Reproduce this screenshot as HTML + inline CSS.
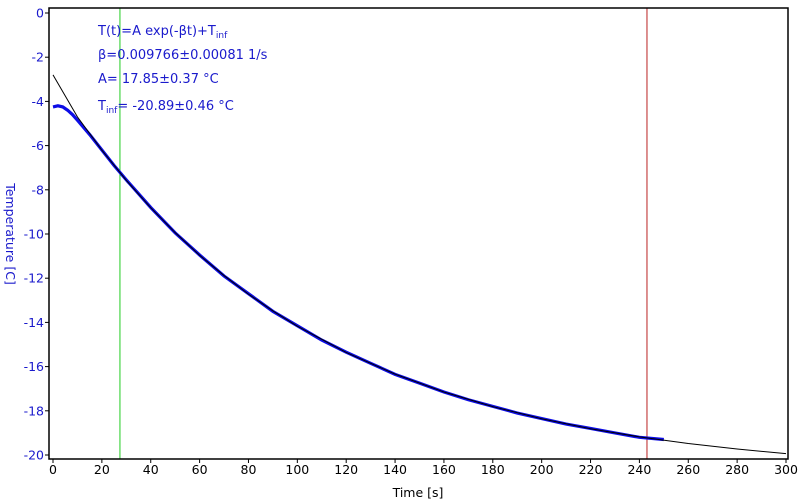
<!DOCTYPE html>
<html><head><meta charset="utf-8"><style>
html,body{margin:0;padding:0;background:#fff;width:800px;height:504px;overflow:hidden}
svg{font-family:"DejaVu Sans","Liberation Sans",sans-serif}
</style></head><body>
<svg id="chart" width="800" height="504">
<rect x="0" y="0" width="800" height="504" fill="#fff"/>
<g id="grid"></g>
<g id="series"></g>
<g id="axes"></g>
<g fill="#1a1acc" font-size="13">
<text x="98" y="35">T(t)=A exp(-βt)+T<tspan font-size="9" dy="3">inf</tspan></text>
<text x="98" y="59">β=0.009766±0.00081 1/s</text>
<text x="98" y="83">A= 17.85±0.37 °C</text>
<text x="98" y="110">T<tspan font-size="9" dy="3">inf</tspan><tspan dy="-3">= -20.89±0.46 °C</tspan></text>
</g>
<text x="418" y="497" font-size="12.5" text-anchor="middle" fill="#000">Time [s]</text>
<text transform="translate(6,234) rotate(90)" font-size="12.5" text-anchor="middle" fill="#1a1acc">Temperature [C]</text>
</svg>
<script>
const xTicks=[0,20,40,60,80,100,120,140,160,180,200,220,240,260,280,300];
const yTicks=[0,-2,-4,-6,-8,-10,-12,-14,-16,-18,-20];
const dataT=[0,2,4,6,8,10,15,20,25,30,40,50,60,70,80,90,100,110,120,130,140,150,160,170,180,190,200,210,220,230,240,250];
const dataV=[-4.25,-4.2,-4.25,-4.4,-4.6,-4.85,-5.5,-6.2,-6.9,-7.55,-8.8,-9.95,-10.95,-11.9,-12.7,-13.5,-14.15,-14.8,-15.35,-15.85,-16.35,-16.75,-17.15,-17.5,-17.8,-18.1,-18.35,-18.6,-18.8,-19.0,-19.2,-19.3];
const fitT=[0,10,20,30,40,50,60,70,80,90,100,120,140,160,180,200,220,240,260,280,300];
const fitV=[-2.8,-4.7,-6.21,-7.57,-8.81,-9.94,-10.96,-11.88,-12.72,-13.48,-14.17,-15.36,-16.34,-17.15,-17.81,-18.36,-18.81,-19.18,-19.48,-19.73,-19.94];
const markers=[27.4,243.1];
const markerColors=['#22cc22','#bb2222'];
const X=t=>53+t*(733/300);
const Y=v=>13+(-v)*(442/20);
const NS='http://www.w3.org/2000/svg';
function mk(tag,parent){const e=document.createElementNS(NS,tag);document.getElementById(parent).appendChild(e);return e;}
const L=49,R=788,T=8,B=459;
let f=mk('rect','axes');


f.setAttribute('x',L);f.setAttribute('y',T);f.setAttribute('width',R-L);f.setAttribute('height',B-T);
f.setAttribute('fill','none');f.setAttribute('stroke','#000');f.setAttribute('stroke-width','1.5');
xTicks.forEach(t=>{
 const l=mk('line','axes');
 
 
 l.setAttribute('x1',X(t));l.setAttribute('x2',X(t));l.setAttribute('y1',B);l.setAttribute('y2',B+4);l.setAttribute('stroke','#000');
 const s=mk('text','axes');
 
 
 s.setAttribute('x',X(t));s.setAttribute('y',B+15);s.setAttribute('text-anchor','middle');s.setAttribute('font-size','12.5');
 s.textContent=t;
});
yTicks.forEach(v=>{
 const l=mk('line','axes');
 
 
 l.setAttribute('x1',L-4);l.setAttribute('x2',L);l.setAttribute('y1',Y(v));l.setAttribute('y2',Y(v));l.setAttribute('stroke','#000');
 const s=mk('text','axes');
 
 
 s.setAttribute('x',L-5);s.setAttribute('y',Y(v)+4.5);s.setAttribute('text-anchor','end');s.setAttribute('font-size','12.5');s.setAttribute('fill','#1a1acc');
 s.textContent=v;
});
markers.forEach((m,i)=>{
 const l=mk('line','grid');
 
 
 l.setAttribute('x1',X(m));l.setAttribute('x2',X(m));l.setAttribute('y1',T);l.setAttribute('y2',B);l.setAttribute('stroke',markerColors[i]);
});
const d=mk('polyline','series');


d.setAttribute('points',dataT.map((t,i)=>X(t)+','+Y(dataV[i])).join(' '));
d.setAttribute('fill','none');d.setAttribute('stroke','#0c0ce6');d.setAttribute('stroke-width','3.2');
const ft=mk('polyline','series');


ft.setAttribute('points',fitT.map((t,i)=>X(t)+','+Y(fitV[i])).join(' '));
ft.setAttribute('fill','none');ft.setAttribute('stroke','#000');ft.setAttribute('stroke-width','1');
</script>
</body></html>
